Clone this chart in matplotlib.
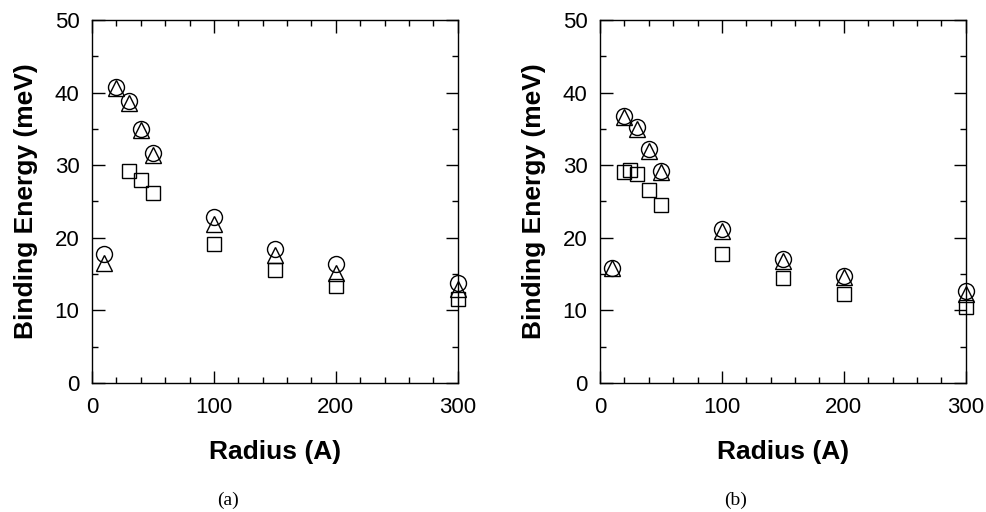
import numpy as np
import matplotlib.pyplot as plt
from matplotlib.ticker import MultipleLocator

plt.rcParams['font.family'] = ['Liberation Sans', 'DejaVu Sans']

# panel (a)
ra_circ = [10, 20, 30, 40, 50, 100, 150, 200, 300]
ea_circ = [17.8, 40.8, 38.8, 35.0, 31.7, 22.8, 18.4, 16.4, 13.8]
ra_tri = [10, 20, 30, 40, 50, 100, 150, 200, 300]
ea_tri = [16.5, 40.6, 38.5, 34.8, 31.4, 21.9, 17.6, 15.1, 12.9]
ra_sq = [30, 40, 50, 100, 150, 200, 300]
ea_sq = [29.2, 28.0, 26.1, 19.2, 15.6, 13.4, 11.6]

# panel (b)
rb_circ = [10, 20, 30, 40, 50, 100, 150, 200, 300]
eb_circ = [15.9, 36.8, 35.2, 32.2, 29.2, 21.2, 17.1, 14.8, 12.6]
rb_tri = [10, 20, 30, 40, 50, 100, 150, 200, 300]
eb_tri = [15.8, 36.6, 35.0, 32.0, 29.0, 20.9, 16.8, 14.6, 12.3]
rb_sq = [20, 25, 30, 40, 50, 100, 150, 200, 300]
eb_sq = [29.1, 29.3, 28.8, 26.6, 24.5, 17.8, 14.4, 12.3, 10.5]

panels = [
    ((ra_circ, ea_circ), (ra_tri, ea_tri), (ra_sq, ea_sq), '(a)'),
    ((rb_circ, eb_circ), (rb_tri, eb_tri), (rb_sq, eb_sq), '(b)'),
]

fig = plt.figure(figsize=(9.86, 5.12), dpi=100)
lefts = [0.0933, 0.6085]

for left, (c, t, s, tag) in zip(lefts, panels):
    ax = fig.add_axes([left, 0.252, 0.371, 0.709])
    ax.plot(c[0], c[1], 'o', ms=11.5, mfc='none', mec='black', mew=1.0, clip_on=False)
    ax.plot(t[0], t[1], '^', ms=11.5, mfc='none', mec='black', mew=1.0, clip_on=False)
    ax.plot(s[0], s[1], 's', ms=10, mfc='none', mec='black', mew=1.0, clip_on=False)
    ax.set_xlim(0, 300)
    ax.set_ylim(0, 50)
    ax.xaxis.set_major_locator(MultipleLocator(100))
    ax.xaxis.set_minor_locator(MultipleLocator(20))
    ax.yaxis.set_major_locator(MultipleLocator(10))
    ax.yaxis.set_minor_locator(MultipleLocator(5))
    ax.tick_params(which='both', direction='in', top=True, right=True, width=1)
    ax.tick_params(which='major', length=9, labelsize=16)
    ax.tick_params(axis='x', which='major', pad=10)
    ax.tick_params(axis='y', which='major', pad=9)
    ax.tick_params(which='minor', length=4.5)
    for sp in ax.spines.values():
        sp.set_linewidth(1)
    ax.set_xlabel('Radius (A)', fontsize=19, fontweight='bold', labelpad=16)
    ax.set_ylabel('Binding Energy (meV)', fontsize=19, fontweight='bold', labelpad=12)
    ax.text(0.372, -0.322, tag, transform=ax.transAxes, ha='center', va='center',
            fontsize=14, family='Liberation Serif')

fig.savefig('out.png', dpi=100)
